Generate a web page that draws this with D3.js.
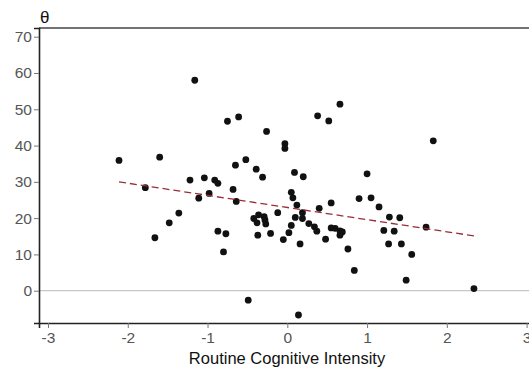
<!DOCTYPE html>
<html>
<head>
<meta charset="utf-8">
<script src="https://cdn.jsdelivr.net/npm/d3@7"></script>
<style>
  body { margin: 0; background: #fff; }
  svg { display: block; font-family: "Liberation Sans", Arial, sans-serif; }
</style>
</head>
<body>
<svg width="529" height="371"></svg>
<script>
// routine cognitive intensity (x) vs theta (y)
const xVals = [-2.11, -1.60, -1.78, -1.66, -1.48, -1.36, -1.22, -1.16, -1.11, -1.04,
  -0.98, -0.91, -0.87, -0.87, -0.80, -0.77, -0.75, -0.68, -0.65, -0.64,
  -0.61, -0.52, -0.49, -0.42, -0.39, -0.38, -0.37, -0.36, -0.31, -0.29,
  -0.28, -0.27, -0.26, -0.21, -0.12, -0.05, -0.03, -0.03, 0.02, 0.05,
  0.05, 0.07, 0.09, 0.12, 0.10, 0.14, 0.16, 0.19, 0.19, 0.20,
  0.27, 0.34, 0.37, 0.38, 0.40, 0.48, 0.52, 0.55, 0.55, 0.60,
  0.66, 0.66, 0.69, 0.66, 0.76, 0.84, 0.90, 1.00, 1.05, 1.15,
  1.21, 1.28, 1.27, 1.34, 1.41, 1.43, 1.49, 1.56, 1.74, 1.83, 2.34];
const yVals = [35.9, 36.8, 28.4, 14.6, 18.7, 21.4, 30.5, 58.0, 25.5, 31.1,
  26.8, 30.5, 29.6, 16.4, 10.7, 15.7, 46.7, 27.9, 34.6, 24.6,
  47.9, 36.1, -2.6, 19.9, 33.5, 18.7, 15.3, 20.9, 31.3, 20.4,
  19.5, 18.4, 43.9, 15.8, 21.5, 14.1, 40.5, 39.2, 16.0, 18.0,
  27.1, 25.6, 32.6, 23.6, 20.2, -6.7, 12.9, 19.9, 21.5, 31.4,
  18.5, 17.6, 16.4, 48.2, 22.7, 14.2, 46.8, 24.2, 17.3, 17.2,
  51.4, 16.5, 16.2, 15.3, 11.5, 5.6, 25.4, 32.2, 25.6, 23.1,
  16.6, 20.3, 12.9, 16.4, 20.1, 12.9, 2.9, 10.0, 17.5, 41.3, 0.6];
const fitX = [-2.11, 2.34];
const fitY = [30.0, 15.1];
const xTicks = [-3, -2, -1, 0, 1, 2, 3];
const yTicks = [0, 10, 20, 30, 40, 50, 60, 70];

const svg = d3.select("svg");
const plotLeft = 39, plotTop = 28, plotBottom = 323, plotRight = 536;

const x = d3.scaleLinear().domain([-3.113, 3.118]).range([plotLeft, plotRight]);
const y = d3.scaleLinear().domain([-8.9, 72.4]).range([plotBottom, plotTop]);

// plain hyphen for negatives, like the original
const fmt = function(d) { return String(d); };

// zero reference line
svg.append("line")
  .attr("x1", plotLeft).attr("x2", plotRight)
  .attr("y1", y(0)).attr("y2", y(0))
  .attr("stroke", "#c8c8c8").attr("stroke-width", 1.2);

// frame top
svg.append("line")
  .attr("x1", plotLeft).attr("x2", plotRight)
  .attr("y1", plotTop).attr("y2", plotTop)
  .attr("stroke", "#444").attr("stroke-width", 1.5);

const yAxis = svg.append("g")
  .attr("transform", "translate(" + plotLeft + ",0)")
  .call(d3.axisLeft(y).tickValues(yTicks).tickFormat(fmt).tickSize(5).tickPadding(2));
const xAxis = svg.append("g")
  .attr("transform", "translate(0," + plotBottom + ")")
  .call(d3.axisBottom(x).tickValues(xTicks).tickFormat(fmt).tickSize(5).tickPadding(4));

[yAxis, xAxis].forEach(function(g) {
  g.select(".domain").attr("stroke", "#222").attr("stroke-width", 1.6);
  g.selectAll(".tick line").attr("stroke", "#777");
  g.selectAll(".tick text")
    .attr("fill", "#555")
    .style("font-size", "15.5px")
    .style("font-family", "'Liberation Sans', Arial, sans-serif");
});

// points
svg.append("g").selectAll("circle")
  .data(xVals.map(function(v, i) { return [v, yVals[i]]; }))
  .enter()
  .append("circle")
  .attr("cx", function(d) { return x(d[0]); })
  .attr("cy", function(d) { return y(d[1]); })
  .attr("r", 3.4)
  .attr("fill", "#111");

// fitted line
svg.append("line")
  .attr("x1", x(fitX[0])).attr("y1", y(fitY[0]))
  .attr("x2", x(fitX[1])).attr("y2", y(fitY[1]))
  .attr("stroke", "#9b2d36")
  .attr("stroke-width", 1.3)
  .attr("stroke-dasharray", "7,4");

svg.append("text")
  .attr("x", 40).attr("y", 23)
  .style("font-size", "17px")
  .attr("fill", "#111")
  .text("θ");

svg.append("text")
  .attr("x", 287).attr("y", 364)
  .attr("text-anchor", "middle")
  .style("font-size", "16.5px")
  .attr("fill", "#111")
  .text("Routine Cognitive Intensity");
</script>
</body>
</html>
